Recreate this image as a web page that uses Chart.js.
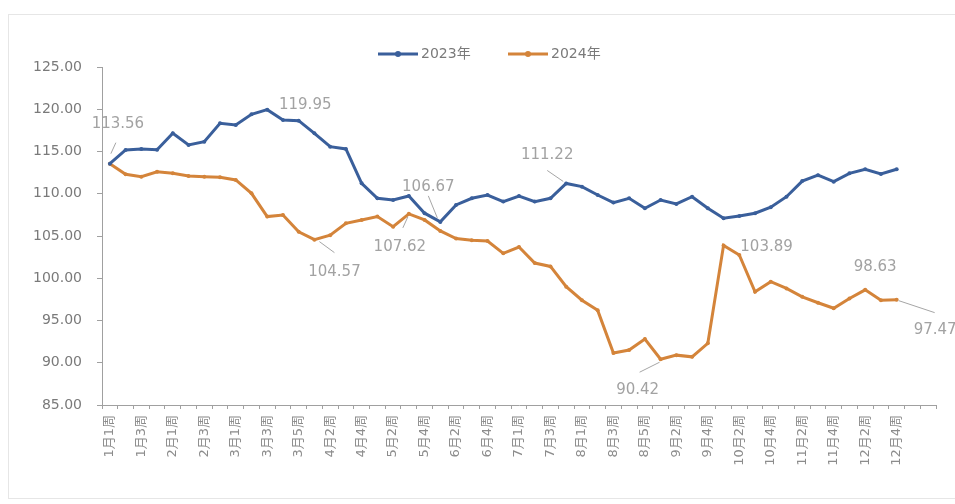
<!DOCTYPE html>
<html><head><meta charset="utf-8">
<script src="https://cdn.jsdelivr.net/npm/chart.js@4"></script>
<style>html,body{margin:0;padding:0;background:#fff;}canvas{display:block}</style>
</head><body>
<canvas id="c" width="955" height="504"></canvas>
<script>
const weeks = ['1月1周','1月2周','1月3周','1月4周','2月1周','2月2周','2月3周','2月4周','3月1周','3月2周','3月3周','3月4周','3月5周','4月1周','4月2周','4月3周','4月4周','5月1周','5月2周','5月3周','5月4周','6月1周','6月2周','6月3周','6月4周','6月5周','7月1周','7月2周','7月3周','7月4周','8月1周','8月2周','8月3周','8月4周','8月5周','9月1周','9月2周','9月3周','9月4周','10月1周','10月2周','10月3周','10月4周','11月1周','11月2周','11月3周','11月4周','12月1周','12月2周','12月3周','12月4周','',''];
const seriesNames = ['2023年','2024年'];
const values2023 = [113.56,115.18,115.3,115.2,117.15,115.77,116.16,118.33,118.14,119.4,119.95,118.73,118.65,117.15,115.57,115.3,111.24,109.46,109.26,109.73,107.7,106.67,108.67,109.46,109.85,109.07,109.73,109.07,109.46,111.22,110.84,109.85,108.95,109.46,108.28,109.26,108.8,109.65,108.28,107.1,107.37,107.7,108.4,109.65,111.5,112.2,111.43,112.42,112.9,112.34,112.9];
const values2024 = [113.56,112.3,112.02,112.6,112.42,112.1,112.02,111.95,111.63,110.05,107.3,107.49,105.5,104.57,105.1,106.5,106.9,107.3,106.1,107.62,106.9,105.6,104.7,104.5,104.4,102.95,103.7,101.8,101.4,99.0,97.4,96.2,91.15,91.5,92.8,90.42,90.9,90.7,92.3,103.89,102.75,98.4,99.6,98.8,97.8,97.1,96.45,97.6,98.63,97.4,97.47];
const yMin = 85, yMax = 125, yStep = 5;
// which points carry a value label (dataset index, point index)
const labelledPoints2023 = [0,10,21,29];
const labelledPoints2024 = [13,19,35,39,48,50];

// placement of labels (style only)
const labelPlacement = {
  '0-0':  {dx:8,  dy:-40, align:'center', lead:[1,-10,6,-21]},
  '0-10': {dx:38, dy:-5,  align:'center'},
  '0-21': {dx:-12,dy:-35, align:'center', lead:[-3,-4,-12,-26]},
  '0-29': {dx:-19,dy:-28, align:'center', lead:[-3,-2,-19,-13]},
  '1-13': {dx:20, dy:32,  align:'center', lead:[5,2,20,13]},
  '1-19': {dx:-9, dy:33,  align:'center', lead:[-1,3,-6,14]},
  '1-35': {dx:-23,dy:31,  align:'center', lead:[-1,3,-21,13]},
  '1-39': {dx:43, dy:2,   align:'center'},
  '1-48': {dx:10, dy:-23, align:'center'},
  '1-50': {dx:17, dy:30,  align:'left', lead:[2,1,38,13]}
};
const BLUE = '#3A5F9B', ORANGE = '#D4843A';
const FONT = '"DejaVu Sans","Noto Sans CJK SC",sans-serif';

const decor = {
  id:'decor',
  beforeDraw(chart){
    const ctx = chart.ctx;
    ctx.save();
    ctx.fillStyle = '#fff';
    ctx.fillRect(0,0,chart.width,chart.height);
    ctx.strokeStyle = '#e6e6e6';
    ctx.lineWidth = 1;
    ctx.strokeRect(8.5,14.5,950,484);
    ctx.restore();
  },
  afterDatasetsDraw(chart){
    const ctx = chart.ctx;
    ctx.save();
    // legend
    const leg = [{x:378, c:BLUE, t:seriesNames[0]},{x:508, c:ORANGE, t:seriesNames[1]}];
    leg.forEach(l=>{
      ctx.strokeStyle = l.c; ctx.lineWidth = 3;
      ctx.beginPath(); ctx.moveTo(l.x,54); ctx.lineTo(l.x+40,54); ctx.stroke();
      ctx.fillStyle = l.c; ctx.beginPath(); ctx.arc(l.x+20,54,3,0,Math.PI*2); ctx.fill();
      ctx.fillStyle = '#7a7a7a'; ctx.font = '14px '+FONT; ctx.textAlign='left'; ctx.textBaseline='middle';
      ctx.fillText(l.t, l.x+43, 54);
    });
    // value labels
    const groups = [[0,labelledPoints2023],[1,labelledPoints2024]];
    groups.forEach(([di,idxs])=>{
      const meta = chart.getDatasetMeta(di);
      idxs.forEach(i=>{
        const p = meta.data[i];
        const cfg = labelPlacement[di+'-'+i];
        const v = chart.data.datasets[di].data[i];
        if (cfg.lead){
          ctx.strokeStyle = '#a6a6a6'; ctx.lineWidth = 1;
          ctx.beginPath();
          ctx.moveTo(p.x+cfg.lead[0], p.y+cfg.lead[1]);
          ctx.lineTo(p.x+cfg.lead[2], p.y+cfg.lead[3]);
          ctx.stroke();
        }
        ctx.fillStyle = '#a2a2a2';
        ctx.font = '15px '+FONT;
        ctx.textAlign = cfg.align; ctx.textBaseline = 'middle';
        ctx.fillText(v.toFixed(2), p.x+cfg.dx, p.y+cfg.dy);
      });
    });
    ctx.restore();
  }
};

new Chart(document.getElementById('c'), {
  type:'line',
  data:{
    labels: weeks,
    datasets:[
      {label:seriesNames[0], data:values2023, borderColor:BLUE, backgroundColor:BLUE, borderWidth:3, pointRadius:2, pointBorderWidth:0, tension:0},
      {label:seriesNames[1], data:values2024, borderColor:ORANGE, backgroundColor:ORANGE, borderWidth:3, pointRadius:2, pointBorderWidth:0, tension:0}
    ]
  },
  options:{
    responsive:false, animation:false, devicePixelRatio:1,
    layout:{padding:{left:0, top:67, right:19, bottom:0}},
    plugins:{legend:{display:false}, tooltip:{enabled:false}},
    scales:{
      x:{
        offset:true,
        afterFit(s){ s.height = 99; },
        border:{color:'#a0a0a0', width:1},
        grid:{offset:true, drawOnChartArea:false, tickLength:4, color:'#a0a0a0'},
        ticks:{autoSkip:false, maxRotation:90, minRotation:90, padding:6, color:'#8c8c8c',
          font:{size:13, family:FONT},
          callback(val, idx){ return idx%2===0 ? this.getLabelForValue(val) : ''; }}
      },
      y:{
        min:yMin, max:yMax,
        afterFit(s){ s.width = 102; },
        border:{color:'#a0a0a0', width:1},
        grid:{drawOnChartArea:false, tickLength:5, color:'#a0a0a0'},
        ticks:{stepSize:yStep, padding:15, color:'#7a7a7a', font:{size:14, family:FONT},
          callback(v){ return Number(v).toFixed(2); }}
      }
    }
  },
  plugins:[decor]
});
</script>
</body></html>
